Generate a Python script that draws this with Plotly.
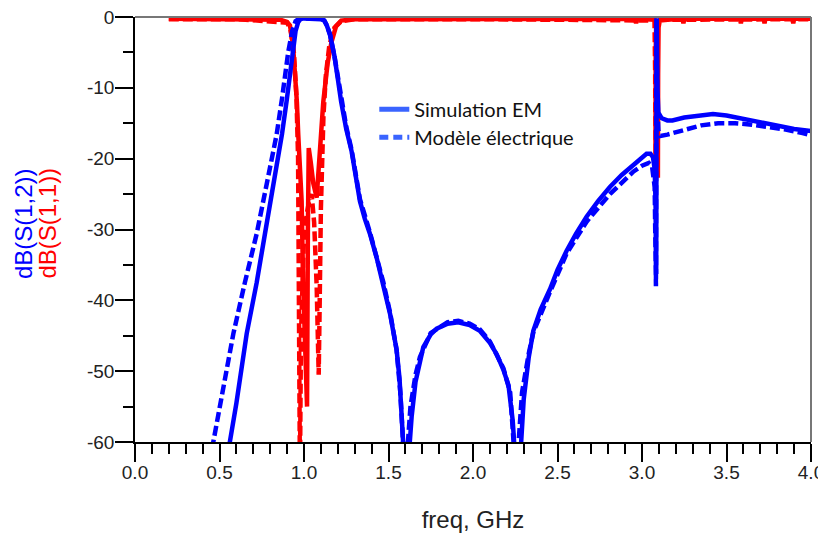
import plotly.graph_objects as go

# ---- S21 (dB(S(1,2))) : EM simulation (solid blue) ----
f_s21_em = [0.54, 0.562, 0.60, 0.661, 0.72, 0.769, 0.80, 0.838, 0.87, 0.897, 0.92, 0.937, 0.95, 0.966, 0.98,
            1.00, 1.05, 1.10, 1.12, 1.135, 1.154, 1.18, 1.20, 1.22, 1.25, 1.282, 1.31, 1.331, 1.36, 1.39,
            1.43, 1.47, 1.51, 1.548, 1.565, 1.578, 1.59, 1.605, 1.62, 1.637, 1.66, 1.686, 1.706, 1.75,
            1.785, 1.85, 1.913, 1.98, 2.04, 2.10, 2.14, 2.18, 2.21, 2.235, 2.25, 2.265, 2.28, 2.30, 2.33,
            2.357, 2.40, 2.456, 2.50, 2.554, 2.61, 2.672, 2.74, 2.81, 2.88, 2.95, 3.00, 3.027, 3.05, 3.065,
            3.075, 3.081, 3.084, 3.0855, 3.087, 3.0885, 3.091, 3.097, 3.117, 3.15, 3.18, 3.25, 3.33, 3.42,
            3.5, 3.6, 3.7, 3.8, 3.9, 4.0]
db_s21_em = [-63, -60, -54.5, -44.7, -37.5, -30.6, -26.5, -21.3, -16.5, -11.9, -7, -4, -2, -0.7, -0.3,
             -0.2, -0.2, -0.3, -0.5, -1.2, -2.5, -5.5, -8.7, -12, -15.8, -19, -23, -26, -28.5, -30.6,
             -34, -37.7, -42, -47, -51, -56.4, -62, -68, -62, -56.4, -51.5, -48.5, -46.6, -44.8,
             -44.0, -43.3, -43.1, -43.5, -44.3, -46, -47.6, -49.8, -52, -57, -62, -68, -62, -54, -48,
             -44.3, -41.3, -38.4, -35.7, -33, -30.6, -28.2, -26, -24, -22.3, -20.8, -19.8, -19.3, -19.3, -19.8,
             -21.5, -27, -36.3, -15, -0.2, -4, -10, -13.5, -14.3, -14.6, -14.6, -14.2, -13.9, -13.7,
             -13.9, -14.4, -14.9, -15.4, -15.8, -16.1]

# ---- S21 : electrical model (dashed blue) ----
f_s21_mod = [0.44, 0.463, 0.52, 0.582, 0.65, 0.72, 0.78, 0.838, 0.87, 0.907, 0.93, 0.95, 0.97, 1.00, 1.10,
             1.12, 1.135, 1.154, 1.18, 1.20, 1.22, 1.25, 1.282, 1.331, 1.39, 1.47, 1.51, 1.548, 1.57, 1.585,
             1.60, 1.615, 1.63, 1.66, 1.686, 1.75, 1.85, 1.913, 1.98, 2.04, 2.10, 2.18, 2.22, 2.24, 2.255,
             2.27, 2.29, 2.33, 2.357, 2.456, 2.554, 2.672, 2.81, 2.95, 3.00, 3.04, 3.06, 3.075, 3.080, 3.0825,
             3.084, 3.0855, 3.087, 3.090, 3.097, 3.11, 3.15, 3.25, 3.35, 3.45, 3.55, 3.65, 3.75, 3.85, 3.95, 4.0]
db_s21_mod = [-63, -60, -52, -44.7, -37.5, -30.6, -23.5, -16.6, -11.5, -4.9, -2, -0.6, -0.25, -0.2, -0.25,
              -0.5, -1.2, -2.5, -5.5, -8.5, -11.8, -15.5, -18.8, -25.7, -30.4, -37.5, -41.8, -47, -53, -60,
              -66, -60, -55, -50.5, -48, -44.6, -43.1, -42.9, -43.3, -44.1, -45.8, -49.6, -53, -60, -66,
              -60, -53, -47.5, -44.5, -38.8, -33.4, -28.9, -25, -21.8, -21, -20.6, -21.2, -24, -30, -38,
              -15, -0.2, -6, -12, -16, -16.8, -16.6, -15.9, -15.3, -15.0, -15.0, -15.2, -15.5, -15.9, -16.4, -16.7]

# ---- S11 (dB(S(1,1))) : EM simulation (solid red) ----
f_s11_em = [0.2, 0.5, 0.8, 0.86, 0.9, 0.917, 0.935, 0.947, 0.958, 0.966, 0.976, 0.986, 0.995, 1.005, 1.013,
            1.018, 1.023, 1.028, 1.04, 1.055, 1.075, 1.09, 1.114, 1.14, 1.163, 1.19, 1.22, 1.3, 1.8, 2.4,
            2.96, 2.965, 2.97, 3.075, 3.088, 3.092, 3.094, 3.0955, 3.098, 3.105, 3.2, 3.24, 3.245, 3.25,
            3.58, 3.585, 3.59, 3.72, 3.725, 3.73, 3.89, 3.895, 3.9, 4.0]
db_s11_em = [-0.25, -0.25, -0.3, -0.4, -0.7, -1.2, -4, -7.3, -12, -16.6, -21, -26, -37.7, -46, -52,
             -55, -30, -18.5, -20.5, -23.5, -25.5, -20, -12, -6.5, -3.5, -1.3, -0.5, -0.3, -0.25, -0.25,
             -0.25, -0.9, -0.25, -0.4, -1, -10, -22.7, -8, -1.5, -0.5, -0.3, -0.25, -0.9, -0.25,
             -0.25, -0.9, -0.25, -0.25, -0.9, -0.25, -0.25, -0.9, -0.25, -0.25]

# ---- S11 : electrical model (dashed red) ----
f_s11_mod = [0.2, 0.6, 0.9, 0.92, 0.94, 0.955, 0.965, 0.972, 0.976, 0.982, 0.99, 1.0, 1.015, 1.03, 1.045,
             1.06, 1.075, 1.087, 1.093, 1.10, 1.115, 1.13, 1.15, 1.18, 1.22, 1.3, 2.0, 3.074, 3.078, 3.0795,
             3.081, 3.084, 3.095, 4.0]
db_s11_mod = [-0.3, -0.3, -0.8, -1.8, -5, -11, -20, -40, -65, -45, -36, -31, -28, -26, -25,
              -29, -38, -50.5, -40, -27, -14, -8, -4, -1.5, -0.6, -0.3, -0.3, -0.5, -8, -21,
              -5, -1, -0.4, -0.3]

# ---- axis ticks ----
x_ticks = [0.0, 0.5, 1.0, 1.5, 2.0, 2.5, 3.0, 3.5, 4.0]
x_labels = ["0.0", "0.5", "1.0", "1.5", "2.0", "2.5", "3.0", "3.5", "4.0"]
y_ticks = [0, -10, -20, -30, -40, -50, -60]
y_labels = ["0", "-10", "-20", "-30", "-40", "-50", "-60"]

legend_names = ["Simulation EM", "Modèle électrique"]
y_title_lines = ["dB(S(1,2))", "dB(S(1,1))"]

BLUE = "#0000ff"
RED = "#ff0000"
LEG = "#3a64ff"
DASH = "10px,4px"
LW = 4.5

fig = go.Figure()
fig.add_trace(go.Scatter(x=f_s11_em, y=db_s11_em, mode="lines", line=dict(color=RED, width=LW),
                         showlegend=False, hoverinfo="skip"))
fig.add_trace(go.Scatter(x=f_s11_mod, y=db_s11_mod, mode="lines", line=dict(color=RED, width=LW, dash=DASH),
                         showlegend=False, hoverinfo="skip"))
fig.add_trace(go.Scatter(x=f_s21_em, y=db_s21_em, mode="lines", line=dict(color=BLUE, width=LW),
                         showlegend=False, hoverinfo="skip"))
fig.add_trace(go.Scatter(x=f_s21_mod, y=db_s21_mod, mode="lines", line=dict(color=BLUE, width=LW, dash=DASH),
                         showlegend=False, hoverinfo="skip"))
# legend-only entries (each in its own legend box for exact placement)
fig.add_trace(go.Scatter(x=[None], y=[None], mode="lines", name=legend_names[0], legend="legend",
                         line=dict(color=LEG, width=5)))
fig.add_trace(go.Scatter(x=[None], y=[None], mode="lines", name=legend_names[1], legend="legend2",
                         line=dict(color=LEG, width=5, dash="9px,5px")))

FONT = "Arial"
LEGFONT = dict(family="Lato, Carlito, Calibri, sans-serif", size=20, color="#111111")

fig.update_layout(
    width=818, height=528,
    margin=dict(l=127, r=15, t=9, b=94, autoexpand=False),
    paper_bgcolor="white", plot_bgcolor="white",
    font=dict(family=FONT, color="#222222"),
    showlegend=True,
    legend=dict(x=0.354, y=0.783, xanchor="left", yanchor="middle",
                bgcolor="rgba(0,0,0,0)", borderwidth=0, font=LEGFONT, itemwidth=30),
    legend2=dict(x=0.354, y=0.717, xanchor="left", yanchor="middle",
                 bgcolor="rgba(0,0,0,0)", borderwidth=0, font=LEGFONT, itemwidth=30),
    xaxis=dict(range=[0, 4], tickvals=x_ticks, ticktext=x_labels, automargin=False,
               showgrid=False, zeroline=False, showline=True, linecolor="black", linewidth=1.5,
               ticks="outside", ticklen=18, tickwidth=1.5, tickcolor="black", ticklabelstandoff=-6,
               ticklabeloverflow="allow",
               tickfont=dict(size=19, family=FONT, color="#222222"),
               minor=dict(dtick=0.1, ticks="outside", ticklen=10, tickwidth=1.5, tickcolor="black"),
               title=dict(text="freq, GHz", font=dict(size=24, family=FONT, color="#222222"), standoff=30)),
    yaxis=dict(range=[-60, 0], tickvals=y_ticks, ticktext=y_labels, automargin=False,
               showgrid=False, zeroline=False, showline=True, linecolor="black", linewidth=1.5,
               ticks="outside", ticklen=18, tickwidth=1.5, tickcolor="black", ticklabelstandoff=-3,
               ticklabeloverflow="allow",
               tickfont=dict(size=19, family=FONT, color="#222222"),
               minor=dict(dtick=5, ticks="outside", ticklen=10, tickwidth=1.5, tickcolor="black")),
    shapes=[dict(type="line", xref="paper", yref="paper", x0=0, x1=1, y0=1, y1=1,
                 line=dict(color="#777777", width=2), layer="above"),
            dict(type="line", xref="paper", yref="paper", x0=1, x1=1, y0=0, y1=1,
                 line=dict(color="#777777", width=2), layer="above")],
    annotations=[
        dict(xref="paper", yref="paper", x=-0.1657, y=0.515, xanchor="center", yanchor="middle",
             textangle=-90, showarrow=False, text=y_title_lines[0],
             font=dict(size=24, family=FONT, color=BLUE)),
        dict(xref="paper", yref="paper", x=-0.1295, y=0.515, xanchor="center", yanchor="middle",
             textangle=-90, showarrow=False, text=y_title_lines[1],
             font=dict(size=24, family=FONT, color=RED)),
    ],
)

fig.write_html("out.html")
